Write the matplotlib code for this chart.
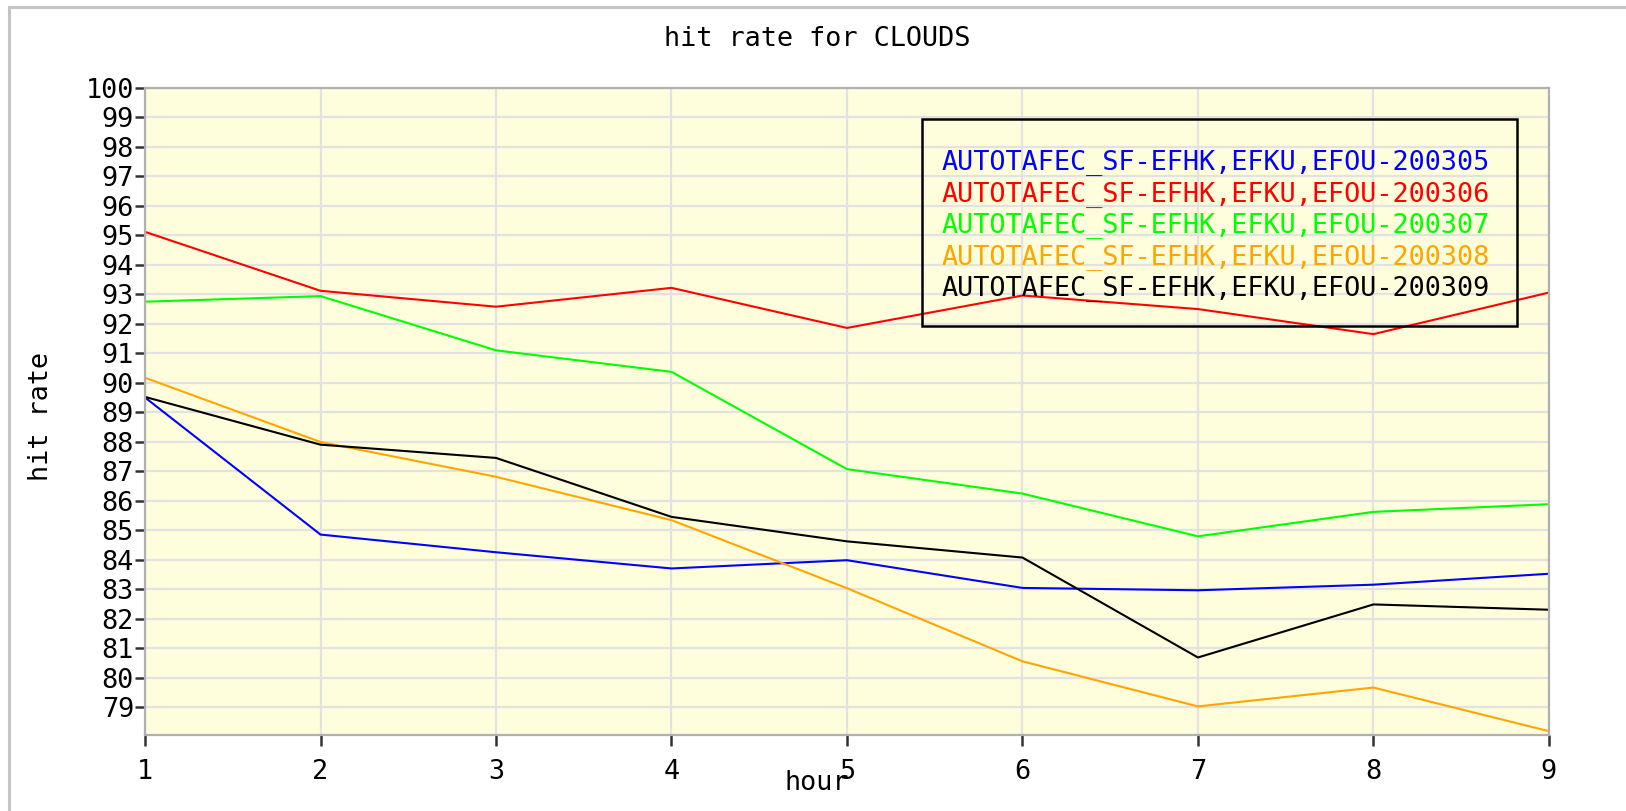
import matplotlib
matplotlib.use("Agg")
import matplotlib.pyplot as plt
from matplotlib.patches import Rectangle

hours = [1, 2, 3, 4, 5, 6, 7, 8, 9]
series_labels = [
    "AUTOTAFEC_SF-EFHK,EFKU,EFOU-200305",
    "AUTOTAFEC_SF-EFHK,EFKU,EFOU-200306",
    "AUTOTAFEC_SF-EFHK,EFKU,EFOU-200307",
    "AUTOTAFEC_SF-EFHK,EFKU,EFOU-200308",
    "AUTOTAFEC_SF-EFHK,EFKU,EFOU-200309",
]
s200305 = [89.50, 84.85, 84.25, 83.70, 83.98, 83.04, 82.96, 83.15, 83.52]
s200306 = [95.12, 93.12, 92.58, 93.22, 91.86, 92.96, 92.50, 91.65, 93.06]
s200307 = [92.75, 92.94, 91.10, 90.37, 87.07, 86.24, 84.79, 85.62, 85.88]
s200308 = [90.17, 87.99, 86.81, 85.34, 83.03, 80.55, 79.02, 79.66, 78.18]
s200309 = [89.52, 87.90, 87.45, 85.45, 84.62, 84.07, 80.68, 82.48, 82.30]
series_colors = ["#0000ff", "#ff0000", "#00ff00", "#ffa500", "#000000"]
yticks = list(range(79, 101))

FONT = "DejaVu Sans Mono"
FS = 19.4

fig = plt.figure(figsize=(16.26, 8.11), dpi=100)
fig.patch.set_facecolor("white")
ax = fig.add_axes([0.0892, 0.0937, 0.8634, 0.7978])
ax.set_facecolor("#fffedc")

for vals, col, lab in zip([s200305, s200306, s200307, s200308, s200309],
                          series_colors, series_labels):
    ax.plot(hours, vals, color=col, lw=1.5, label=lab, solid_joinstyle="miter")

ax.set_xlim(1, 9)
ax.set_ylim(78.05, 100)
ax.set_xticks(hours)
ax.set_yticks(yticks)
ax.grid(True, color="#e2e2e2", lw=1.6)
ax.set_axisbelow(True)
for s in ax.spines.values():
    s.set_color("#b0b0b0")
    s.set_linewidth(1.6)
ax.tick_params(axis="y", length=7, width=1.8, color="#333333", pad=1,
               labelsize=FS, labelfontfamily=FONT)
ax.tick_params(axis="x", length=8, width=1.8, color="#333333", pad=9,
               labelsize=FS, labelfontfamily=FONT)

# legend: transparent box with coloured labels (lines show through)
box_x0, box_x1, box_y0, box_y1 = 0.5534, 0.9772, 0.6321, 0.9521
ax.add_patch(Rectangle((box_x0, box_y0), box_x1 - box_x0, box_y1 - box_y0,
                       transform=ax.transAxes, fill=False,
                       edgecolor="#000000", lw=1.8, zorder=5))
for i, (lab, col) in enumerate(zip(series_labels, series_colors)):
    ax.text(0.5673, 0.8838 - i * 0.0486, lab, color=col, transform=ax.transAxes,
            ha="left", va="center", family=FONT, fontsize=FS, zorder=6)

fig.text(0.5025, 0.952, "hit rate for CLOUDS", ha="center", va="center",
         family=FONT, fontsize=FS)
fig.text(0.5025, 0.0345, "hour", ha="center", va="center",
         family=FONT, fontsize=FS)
fig.text(0.0255, 0.487, "hit rate", ha="center", va="center", rotation=90,
         family=FONT, fontsize=FS)

fig.add_artist(Rectangle((9 / 1626, -0.1), 1.2, 1 - 7 / 811 + 0.1,
                         transform=fig.transFigure, fill=False,
                         edgecolor="#c4c4c4", lw=2.2))

fig.savefig("out.png", dpi=100)
